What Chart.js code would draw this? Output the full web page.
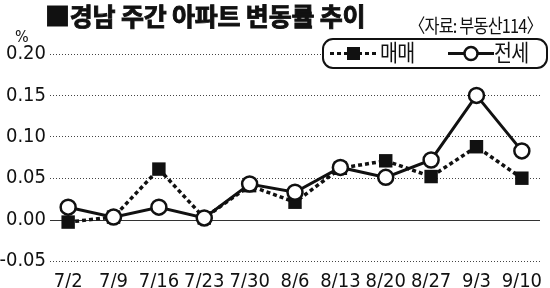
<!DOCTYPE html>
<html>
<head>
<meta charset="utf-8">
<script src="https://cdn.jsdelivr.net/npm/chart.js@4/dist/chart.umd.min.js"></script>
<style>
  html, body { margin:0; padding:0; background:#fff; }
  .wrap { position:relative; width:550px; height:288px; overflow:hidden; }
  canvas { position:absolute; left:0; top:0; }
  .ttl { position:absolute; left:45px; top:-3px; font:bold 25px 'Noto Sans CJK KR',sans-serif; color:#111; letter-spacing:-0.2px; -webkit-text-stroke:0.9px #111; }
  .src { position:absolute; left:409px; top:11px; font:19px 'Noto Sans CJK KR',sans-serif; color:#111; letter-spacing:-1px; transform:scaleX(0.86); transform-origin:left top; white-space:nowrap; }
  .pct { position:absolute; left:15px; top:27px; font:16px 'DejaVu Sans Condensed','DejaVu Sans',sans-serif; color:#111; }
  .lg { position:absolute; left:322px; top:38px; width:222px; height:27px; border:2px solid #111; border-radius:11px; background:#fff; }
  .lg span { position:absolute; top:-6px; font:23px 'Noto Sans CJK KR',sans-serif; color:#111; letter-spacing:-1px; transform:scaleX(0.85); transform-origin:left top; }
  .lg svg { position:absolute; top:0; }
</style>
</head>
<body>
<div class="wrap">
  <canvas id="c" width="550" height="288"></canvas>
  <div class="ttl">■경남 주간 아파트 변동률 추이</div>
  <div class="src">〈자료: 부동산114〉</div>
  <div class="pct">%</div>
  <div class="lg">
    <svg width="52" height="27" style="left:4px">
      <line x1="2" y1="13.5" x2="50" y2="13.5" stroke="#111" stroke-width="3" stroke-dasharray="4,3"/>
      <rect x="19" y="7" width="13" height="13" fill="#111"/>
    </svg>
    <span style="left:56px">매매</span>
    <svg width="46" height="27" style="left:124px">
      <line x1="0" y1="13.5" x2="46" y2="13.5" stroke="#111" stroke-width="3"/>
      <circle cx="23" cy="13.5" r="6.5" fill="#fff" stroke="#111" stroke-width="2.5"/>
    </svg>
    <span style="left:170px">전세</span>
  </div>
</div>
<script>
const weeks = ['7/2','7/9','7/16','7/23','7/30','8/6','8/13','8/20','8/27','9/3','9/10'];
const sale = [-0.003, 0.003, 0.061, 0.002, 0.041, 0.021, 0.062, 0.071, 0.052, 0.088, 0.050];
const jeonse = [0.015, 0.003, 0.015, 0.002, 0.043, 0.033, 0.063, 0.051, 0.072, 0.150, 0.083];
const yTicks = [-0.05, 0, 0.05, 0.10, 0.15, 0.20];

const pts = arr => arr.map((v, i) => ({ x: i, y: v }));
const tickFont = "'DejaVu Sans Condensed','DejaVu Sans',sans-serif";

// solid zero line, other grid lines are dotted
const zeroLine = {
  id: 'zeroLine',
  beforeDatasetsDraw(chart) {
    const { ctx, chartArea: a, scales: { y } } = chart;
    const py = Math.round(y.getPixelForValue(0)) + 0.5;
    ctx.save();
    ctx.strokeStyle = '#333';
    ctx.lineWidth = 1.2;
    ctx.beginPath();
    ctx.moveTo(a.left, py);
    ctx.lineTo(a.right, py);
    ctx.stroke();
    ctx.restore();
  }
};

new Chart(document.getElementById('c'), {
  type: 'line',
  data: {
    datasets: [
      { label: '전세', data: pts(jeonse), order: 1,
        borderColor: '#111', borderWidth: 3, pointStyle: 'circle', pointRadius: 7.5,
        pointBackgroundColor: '#fff', pointBorderColor: '#111', pointBorderWidth: 2.5, tension: 0 },
      { label: '매매', data: pts(sale), order: 2,
        borderColor: '#111', borderWidth: 3.5, borderDash: [4, 3], pointStyle: 'rect', pointRadius: 9.5,
        pointBackgroundColor: '#111', pointBorderColor: '#111', pointBorderWidth: 0, tension: 0 }
    ]
  },
  options: {
    responsive: false, animation: false,
    layout: { padding: { top: 54, right: 5, left: 0, bottom: 0 } },
    plugins: { legend: { display: false }, tooltip: { enabled: false } },
    scales: {
      x: {
        type: 'linear', min: -0.4, max: 10.4,
        afterBuildTicks: s => { s.ticks = weeks.map((_, i) => ({ value: i })); },
        afterFit: s => { s.height = 27; },
        grid: { display: false }, border: { display: false },
        ticks: { color: '#111', padding: 1, autoSkip: false, maxRotation: 0,
          font: { family: tickFont, size: 20 },
          callback: v => weeks[v] }
      },
      y: {
        min: -0.05, max: 0.2,
        afterBuildTicks: s => { s.ticks = yTicks.map(v => ({ value: v })); },
        afterFit: s => { s.width = 50; },
        grid: { drawTicks: false, lineWidth: 1,
          color: c => (c.tick && Math.abs(c.tick.value) < 1e-9) ? 'rgba(0,0,0,0)' : '#444' },
        border: { display: false, dash: [1, 2] },
        ticks: { color: '#111', padding: 4,
          font: { family: tickFont, size: 20 },
          callback: v => Math.abs(v) < 1e-9 ? '0.00' : v.toFixed(2) }
      }
    }
  },
  plugins: [zeroLine]
});
</script>
</body>
</html>
